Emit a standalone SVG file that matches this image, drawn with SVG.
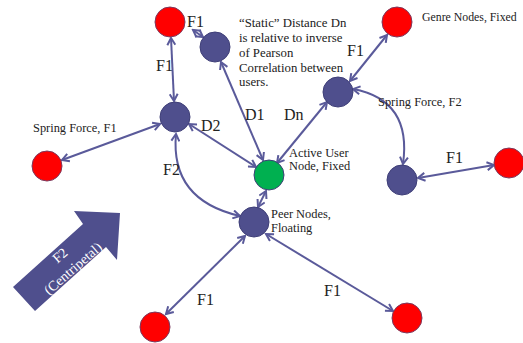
<svg xmlns="http://www.w3.org/2000/svg" width="523" height="343" viewBox="0 0 523 343">
<defs>
<style>
.bg{fill:#fff}
.red{fill:#ff0000;stroke:#7a3a5e;stroke-width:1}
.blue{fill:#4f4f8d;stroke:#3f3f78;stroke-width:1}
.green{fill:#00b050;stroke:#3f3f78;stroke-width:1}
.c{fill:none;stroke:#5a5a9a;stroke-width:2;marker-start:url(#ah);marker-end:url(#ah)}
.t{font-family:"Liberation Serif","DejaVu Serif",serif;font-size:12.4px;fill:#222}
.s{font-size:12.8px}
.g{font-size:11.8px}
.l{font-family:"Liberation Serif","DejaVu Serif",serif;font-size:16px;fill:#222}
.w{font-family:"Liberation Serif","DejaVu Serif",serif;font-size:14px;fill:#fff}
</style>
<marker id="ah" viewBox="0 0 10 10" refX="8" refY="5" markerWidth="10" markerHeight="10" markerUnits="userSpaceOnUse" orient="auto-start-reverse">
<path d="M1,1 L8,5 L1,9" fill="none" stroke="#5a5a9a" stroke-width="2"/>
</marker>
</defs>
<rect class="bg" width="523" height="343"/>
<g id="connectors">
<line class="c" x1="171" y1="38" x2="174" y2="101"/>
<line class="c" x1="193" y1="30" x2="203" y2="37"/>
<line class="c" x1="221" y1="62" x2="263" y2="160"/>
<line class="c" x1="189" y1="124" x2="256" y2="167"/>
<line class="c" x1="327" y1="102" x2="277" y2="163"/>
<line class="c" x1="350" y1="81" x2="387" y2="35"/>
<path class="c" d="M353,89 Q412,100 403,164"/>
<line class="c" x1="418" y1="178" x2="494" y2="165"/>
<line class="c" x1="160" y1="124" x2="62" y2="160"/>
<path class="c" d="M176,134 Q170,200 240,216"/>
<line class="c" x1="266" y1="191" x2="258" y2="207"/>
<line class="c" x1="245" y1="236" x2="166" y2="314"/>
<line class="c" x1="266" y1="234" x2="393" y2="311"/>
</g>
<g id="red-top-left"><circle class="red" cx="170" cy="22" r="15"/></g>
<g id="red-top-right"><circle class="red" cx="397" cy="22" r="15"/></g>
<g id="red-left"><circle class="red" cx="47" cy="166" r="15"/></g>
<g id="red-right"><circle class="red" cx="509" cy="163" r="15"/></g>
<g id="red-bottom-left"><circle class="red" cx="155" cy="327" r="15"/></g>
<g id="red-bottom-right"><circle class="red" cx="407" cy="318" r="15"/></g>
<g id="blue-top"><circle class="blue" cx="215" cy="47" r="15"/></g>
<g id="blue-left"><circle class="blue" cx="175" cy="117" r="15"/></g>
<g id="blue-right-upper"><circle class="blue" cx="338" cy="92" r="15"/></g>
<g id="blue-right-lower"><circle class="blue" cx="402" cy="180" r="15"/></g>
<g id="peer"><circle class="blue" cx="254" cy="222" r="15"/></g>
<g id="active-user"><circle class="green" cx="269" cy="175" r="15"/></g>
<g id="big-arrow">
<polygon points="13,287 83,224 74,211 120,213 117,260 106,247 35,311" fill="#4f4f8d"/>
<text class="w" transform="translate(63,259) rotate(-41)" text-anchor="middle">F2</text>
<text class="w" transform="translate(76,272) rotate(-41)" text-anchor="middle">(Centripetal)</text>
</g>
<g id="labels">
<text class="l" x="187" y="27">F1</text>
<text class="l" x="156" y="71">F1</text>
<text class="t s" x="239" y="27">“Static” Distance Dn</text>
<text class="t s" x="239" y="42">is relative to inverse</text>
<text class="t s" x="239" y="57">of Pearson</text>
<text class="t s" x="239" y="72">Correlation between</text>
<text class="t s" x="239" y="86">users.</text>
<text class="t g" x="422" y="21">Genre Nodes, Fixed</text>
<text class="l" x="347" y="56">F1</text>
<text class="t" x="378" y="106">Spring Force,  F2</text>
<text class="t" x="33" y="132">Spring Force, F1</text>
<text class="l" x="201" y="131">D2</text>
<text class="l" x="245" y="120">D1</text>
<text class="l" x="284" y="120">Dn</text>
<text class="t" x="289" y="157">Active User</text>
<text class="t" x="289" y="170">Node, Fixed</text>
<text class="l" x="163" y="175">F2</text>
<text class="l" x="446" y="163">F1</text>
<text class="t" x="271" y="218">Peer Nodes,</text>
<text class="t" x="271" y="232">Floating</text>
<text class="l" x="197" y="305">F1</text>
<text class="l" x="324" y="296">F1</text>
</g>
</svg>
